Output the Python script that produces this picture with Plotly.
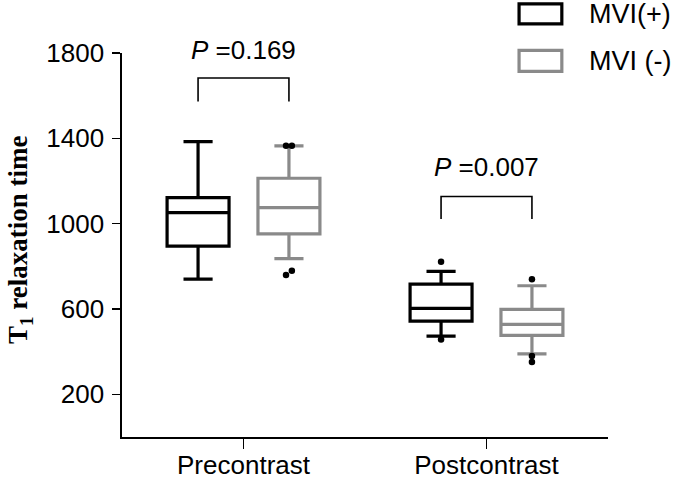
import plotly.graph_objects as go

# ---------------- data ----------------
categories = ["Precontrast", "Postcontrast"]
group_names = ["MVI(+)", "MVI (-)"]

pos_lowerfence = [740, 473]
pos_q1 = [895, 543]
pos_median = [1052, 603]
pos_q3 = [1122, 717]
pos_upperfence = [1385, 776]
pos_outliers = [[], [822, 457]]

neg_lowerfence = [836, 390]
neg_q1 = [952, 476]
neg_median = [1075, 528]
neg_q3 = [1213, 598]
neg_upperfence = [1365, 709]
neg_outliers = [[1365, 1365, 779, 759], [739, 380, 352]]

p_values = ["0.169", "0.007"]
y_ticks = [200, 600, 1000, 1400, 1800]

# ---------------- style ----------------
BLACK = "#000000"
GRAY = "#8a8a8a"
FONT = "Liberation Sans, Arial, sans-serif"
FS = 26
OFFSET = 0.187
BOX_W = 0.255
DODGE = 0.012

groups = [
    dict(name=group_names[0], color=BLACK, off=-OFFSET,
         lf=pos_lowerfence, q1=pos_q1, med=pos_median, q3=pos_q3, uf=pos_upperfence, out=pos_outliers),
    dict(name=group_names[1], color=GRAY, off=OFFSET,
         lf=neg_lowerfence, q1=neg_q1, med=neg_median, q3=neg_q3, uf=neg_upperfence, out=neg_outliers),
]

fig = go.Figure()
idx = list(range(len(categories)))

for g in groups:
    xs = [i + g["off"] for i in idx]
    fig.add_trace(go.Box(
        x=xs, q1=g["q1"], median=g["med"], q3=g["q3"],
        lowerfence=g["lf"], upperfence=g["uf"],
        width=BOX_W, whiskerwidth=0.47,
        line=dict(color=g["color"], width=3.2),
        fillcolor="white", boxpoints=False, name=g["name"],
        showlegend=False, hoverinfo="skip",
    ))
    # outliers (with small dodge for near-coincident points)
    ox, oy = [], []
    for i, pts in zip(idx, g["out"]):
        s = sorted(pts)
        k = 0
        while k < len(s):
            if k + 1 < len(s) and abs(s[k + 1] - s[k]) < 25:
                ox += [i + g["off"] - DODGE, i + g["off"] + DODGE]
                oy += [s[k], s[k + 1]]
                k += 2
            else:
                ox.append(i + g["off"])
                oy.append(s[k])
                k += 1
    fig.add_trace(go.Scatter(
        x=ox, y=oy, mode="markers",
        marker=dict(color=BLACK, size=6.5),
        showlegend=False, hoverinfo="skip", cliponaxis=False,
    ))

# significance brackets
bracket_top = [1683, 1127]
bracket_bot = [1573, 1022]
label_y = [1.007, 0.702]   # fraction of plot height (label centres)
for i, pv in enumerate(p_values):
    x0 = i - OFFSET
    x1 = i + OFFSET
    fig.add_shape(type="path",
                  path=f"M {x0} {bracket_bot[i]} L {x0} {bracket_top[i]} L {x1} {bracket_top[i]} L {x1} {bracket_bot[i]}",
                  line=dict(color=BLACK, width=1.6), xref="x", yref="y")
    fig.add_annotation(x=i, y=label_y[i], xref="x", yref="paper",
                       text=f"<i>P</i> ={pv}", showarrow=False,
                       font=dict(family=FONT, size=FS, color=BLACK),
                       xanchor="center", yanchor="middle")

# manual legend
leg_rects = [(0.817, 1.076, 0.905, 1.128), (0.817, 0.952, 0.905, 1.007)]
leg_text_y = [1.102, 0.979]
for g, (x0, y0, x1, y1), ty in zip(groups, leg_rects, leg_text_y):
    fig.add_shape(type="rect", xref="paper", yref="paper",
                  x0=x0, y0=y0, x1=x1, y1=y1,
                  line=dict(color=g["color"], width=3.2), fillcolor="white")
    fig.add_annotation(x=0.957, y=ty, xref="paper", yref="paper",
                       text=g["name"], showarrow=False,
                       font=dict(family=FONT, size=27, color=BLACK),
                       xanchor="left", yanchor="middle")

# y-axis title
fig.add_annotation(x=-0.21, y=0.513, xref="paper", yref="paper",
                   text="<b>T<sub>1</sub> relaxation time</b>", showarrow=False,
                   textangle=-90,
                   font=dict(family="Liberation Serif, Times New Roman, serif",
                             size=27, color=BLACK),
                   xanchor="center", yanchor="middle")

fig.update_layout(
    width=685, height=479,
    margin=dict(l=122, r=77, t=53, b=42, autoexpand=False),
    paper_bgcolor="white", plot_bgcolor="white",
    showlegend=False,
    xaxis=dict(range=[-0.5, 1.5], tickvals=idx, ticktext=categories,
               automargin=False, ticklabelstandoff=-6,
               showgrid=False, zeroline=False, showline=True,
               linecolor=BLACK, linewidth=1.6,
               ticks="outside", ticklen=10, tickwidth=1.6, tickcolor=BLACK,
               tickfont=dict(family=FONT, size=FS, color=BLACK)),
    yaxis=dict(range=[0, 1800], tickvals=y_ticks, automargin=False,
               ticklabelstandoff=3,
               showgrid=False, zeroline=False, showline=True,
               linecolor=BLACK, linewidth=1.6,
               ticks="outside", ticklen=8, tickwidth=1.6, tickcolor=BLACK,
               tickfont=dict(family=FONT, size=FS, color=BLACK)),
)

# remove the browser's default 8px body margin so the figure fills the window
fig.write_html("out.html",
               config={"displayModeBar": False, "staticPlot": True},
               post_script="document.body.style.margin='0';document.body.style.overflow='hidden';")
